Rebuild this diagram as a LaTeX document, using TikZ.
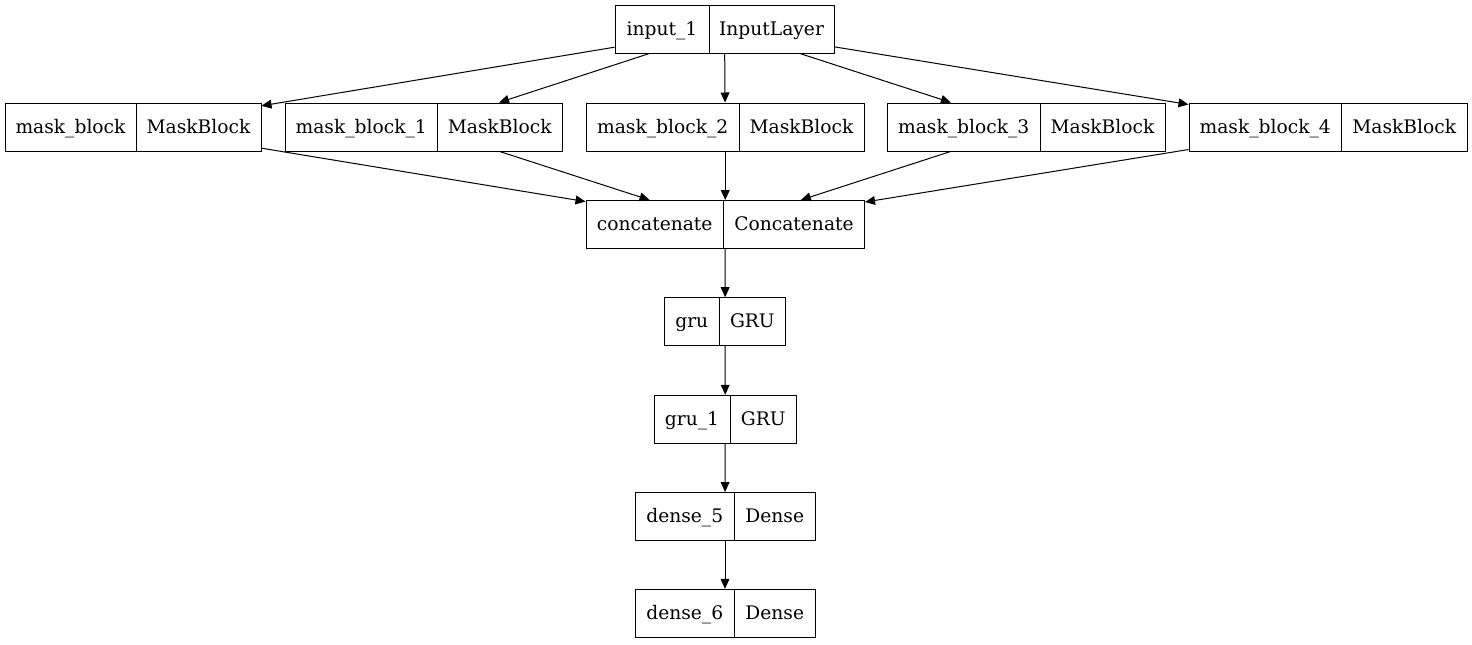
\documentclass[tikz,border=0pt]{standalone}
\usepackage{fontspec}
\setmainfont{DejaVu Serif}
\usetikzlibrary{arrows.meta}
\tikzset{
  recbox/.style={draw=black, line width=0.75pt, inner sep=0pt, minimum height=36pt},
  recline/.style={draw=black, line width=0.75pt},
  lbl/.style={inner sep=0pt, font=\fontsize{14pt}{16pt}\selectfont},
  edge/.style={draw=black, line width=0.75pt, -{Triangle[length=7.5pt,width=6.6pt]}}
}
% name, left, top, right, divider, left text, right text
\newcommand\recnode[7]{%
  \node[recbox, minimum width={(#4-#2)*0.75pt}] (#1) at ({(#2+#4)/2},{#3+24}) {};
  \draw[recline] (#5,#3) -- (#5,{#3+48});
  \node[lbl] (#1-a) at ({(#2+#5)/2},{#3+26}) {\strut #6};
  \node[lbl] (#1-b) at ({(#5+#4)/2},{#3+26}) {\strut #7};
}
\begin{document}
\begin{tikzpicture}[x=0.75pt,y=-0.75pt]
\useasboundingbox (0,0) rectangle (1472,644);
\recnode{in}{615}{5}{834}{709}{input\_1}{InputLayer}
\recnode{m0}{5}{103}{261}{136}{mask\_block}{MaskBlock}
\recnode{m1}{285.5}{103}{562.5}{437}{mask\_block\_1}{MaskBlock}
\recnode{m2}{586.5}{103}{864}{739}{mask\_block\_2}{MaskBlock}
\recnode{m3}{887.5}{103}{1165}{1040}{mask\_block\_3}{MaskBlock}
\recnode{m4}{1189}{103}{1467}{1341.5}{mask\_block\_4}{MaskBlock}
\recnode{cc}{586}{200.5}{864.5}{723.5}{concatenate}{Concatenate}
\recnode{g0}{664.5}{297.7}{785.7}{719}{gru}{GRU}
\recnode{g1}{654}{395.3}{796.5}{730}{gru\_1}{GRU}
\recnode{d5}{635}{492.5}{815}{734.5}{dense\_5}{Dense}
\recnode{d6}{635}{589.3}{815}{734.5}{dense\_6}{Dense}
\draw[edge] (in) -- (m0);
\draw[edge] (in) -- (m1);
\draw[edge] (in) -- (m2);
\draw[edge] (in) -- (m3);
\draw[edge] (in) -- (m4);
\draw[edge] (m0) -- (cc);
\draw[edge] (m1) -- (cc);
\draw[edge] (m2) -- (cc);
\draw[edge] (m3) -- (cc);
\draw[edge] (m4) -- (cc);
\draw[edge] (cc) -- (g0);
\draw[edge] (g0) -- (g1);
\draw[edge] (g1) -- (d5);
\draw[edge] (d5) -- (d6);
\end{tikzpicture}
\end{document}
